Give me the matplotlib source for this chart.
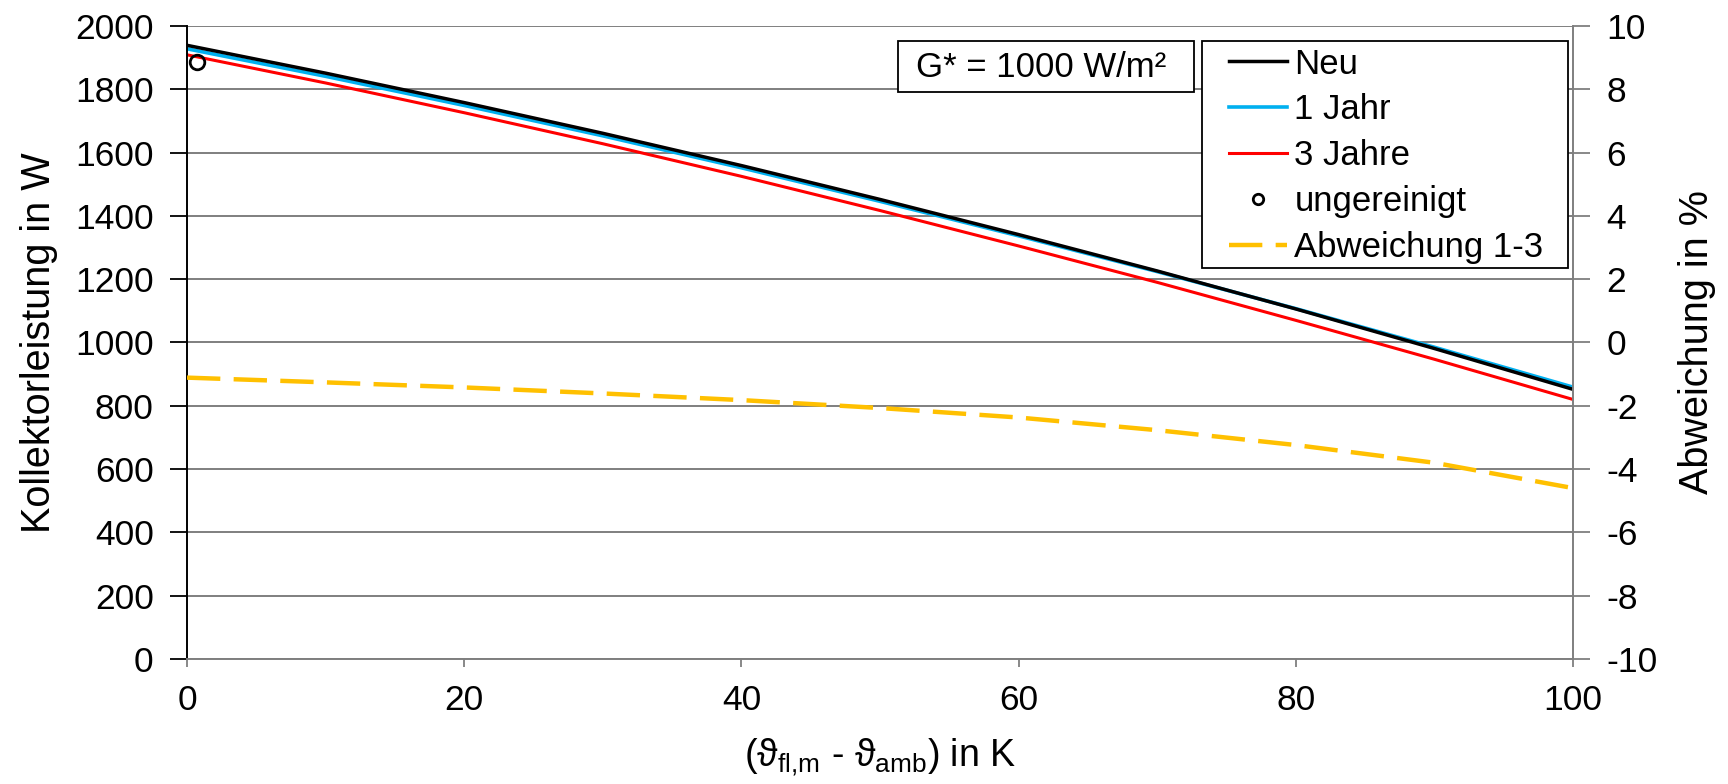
import matplotlib
matplotlib.use("Agg")
import matplotlib.pyplot as plt
from matplotlib.lines import Line2D
from matplotlib.patches import Rectangle

# temperature difference (K) and collector output (W)
dt = [0, 10, 20, 30, 40, 50, 60, 70, 80, 90, 100]
neu = [1939, 1851, 1758, 1661, 1559, 1452, 1341, 1226, 1106, 981, 852]
jahr_1 = [1928, 1841, 1749, 1653, 1552, 1446, 1337, 1224, 1107, 985, 859]
jahre_3 = [1909, 1820, 1726, 1628, 1525, 1417, 1305, 1190, 1070, 947, 820]
abweichung = [-1.11, -1.26, -1.42, -1.61, -1.82, -2.07, -2.37, -2.77, -3.24, -3.80, -4.60]

ungereinigt_dt = [0.7]
ungereinigt_p = [1886]

GRID = "#7f7f7f"
plt.rcParams["font.family"] = ["Liberation Sans", "DejaVu Sans"]
plt.rcParams["axes.unicode_minus"] = False

fig = plt.figure(figsize=(17.28, 7.84), dpi=100)
ax = fig.add_axes([0.10822, 0.15944, 0.80208, 0.80740])
ax2 = ax.twinx()

ax.plot(dt, jahre_3, color="#FF0000", lw=2.2)
ax.plot(dt, jahr_1, color="#00B0F0", lw=2.6)
ax.plot(dt, neu, color="black", lw=2.5)
ax.plot(ungereinigt_dt, ungereinigt_p, "o", mfc="none", mec="black", ms=10.5, mew=2)
ax2.plot(dt, abweichung, color="#FFC000", lw=3.2, dashes=(7.5, 3))

ax.set_xlim(0, 100)
ax.set_ylim(0, 2000)
ax2.set_ylim(-10, 10)
ax.set_xticks(range(0, 101, 20))
ax.set_yticks(range(0, 2001, 200))
ax2.set_yticks(range(-10, 11, 2))

ax.set_axisbelow(True)
ax.yaxis.grid(True, color=GRID, lw=1.4)

ax.spines["top"].set_visible(False)
ax2.spines["top"].set_visible(False)
ax2.spines["left"].set_visible(False)
ax2.spines["bottom"].set_visible(False)
ax.spines["right"].set_visible(False)
ax.spines["left"].set_color("black")
ax.spines["left"].set_linewidth(1.4)
ax.spines["bottom"].set_color(GRID)
ax.spines["bottom"].set_linewidth(1.4)
ax2.spines["right"].set_color(GRID)
ax2.spines["right"].set_linewidth(1.4)

ax.tick_params(axis="y", direction="out", length=12, width=1.3, color="black", labelsize=25.5, pad=12)
ax.tick_params(axis="x", direction="out", length=6, width=1.3, color=GRID, labelsize=25.5, pad=12)
ax2.tick_params(axis="y", direction="out", length=12, width=1.3, color=GRID, labelsize=25.5, pad=12)

ax.set_ylabel("Kollektorleistung in W", fontsize=28.5, labelpad=12)
ax2.set_ylabel("Abweichung in %", fontsize=28.5, labelpad=15)
ax.set_xlabel("(ϑ$_\\mathregular{fl{,}m}$ - ϑ$_\\mathregular{amb}$) in K", fontsize=27, labelpad=14)

# annotation box
ax2.add_patch(Rectangle((0.5130, 0.8957), 0.2136, 0.0806, transform=ax2.transAxes,
                        fc="white", ec="black", lw=1.3, zorder=4))
ax2.text(0.6162, 0.9352, "G* = 1000 W/m²", transform=ax2.transAxes, ha="center", va="center",
         fontsize=25, zorder=5)

# legend with its own frame
ax2.add_patch(Rectangle((0.7323, 0.6177), 0.2641, 0.3586, transform=ax2.transAxes,
                        fc="white", ec="black", lw=1.3, zorder=4))
handles = [
    Line2D([], [], color="black", lw=2.5),
    Line2D([], [], color="#00B0F0", lw=2.6),
    Line2D([], [], color="#FF0000", lw=2.2),
    Line2D([], [], ls="none", marker="o", mfc="none", mec="black", ms=7.5, mew=2),
    Line2D([], [], color="#FFC000", lw=3.2, dashes=(7.5, 3)),
]
labels = ["Neu", "1 Jahr", "3 Jahre", "ungereinigt", "Abweichung 1-3"]
ax2.legend(handles, labels, loc="upper left", bbox_to_anchor=(0.7518, 0.966), frameon=False,
           fontsize=25, handlelength=1.68, handletextpad=0.2, labelspacing=0.37,
           borderpad=0, borderaxespad=0)

fig.savefig("out.png", dpi=100)
